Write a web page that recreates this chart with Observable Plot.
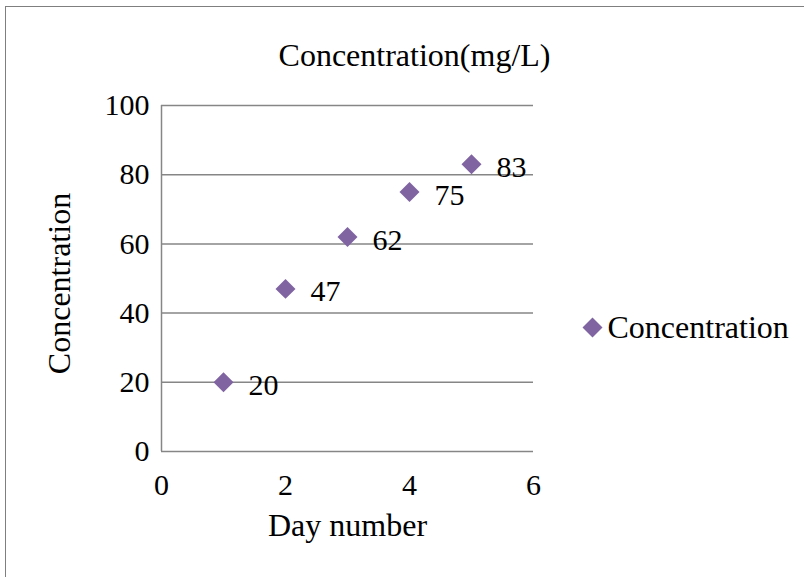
<!DOCTYPE html>
<html><head><meta charset="utf-8">
<script src="https://cdn.jsdelivr.net/npm/d3@7"></script>
<script src="https://cdn.jsdelivr.net/npm/@observablehq/plot@0.6"></script>
<style>
html,body{margin:0;padding:0;background:#fff;overflow:hidden}
#wrap{position:relative;width:804px;height:577px;overflow:hidden}
#border{position:absolute;left:5px;top:6px;width:830px;height:620px;border:1px solid #7f7f7f;box-sizing:border-box}
#chart{position:absolute;left:0;top:0}
</style>
</head><body>
<div id="wrap"><div id="border"></div><div id="chart"></div></div>
<script>
const titleText = "Concentration(mg/L)";
const xLabel = "Day number";
const yLabel = "Concentration";
const seriesName = "Concentration";
const days = [1, 2, 3, 4, 5];
const concentration = [20, 47, 62, 75, 83];
const xTicks = [0, 2, 4, 6];
const yTicks = [0, 20, 40, 60, 80, 100];

const data = days.map((d, i) => ({day: d, conc: concentration[i]}));
const purple = "#8064A2";
const grid = "#868686";
const font = "'Liberation Serif','Times New Roman',serif";

const chart = Plot.plot({
  width: 804, height: 577,
  marginLeft: 161, marginRight: 271, marginTop: 105, marginBottom: 126,
  style: {fontFamily: font, fontSize: "30px", color: "#000", background: "transparent", overflow: "visible"},
  x: {domain: [0, 6], ticks: xTicks, label: null, tickFormat: d3.format("d")},
  y: {domain: [0, 100], ticks: yTicks, label: null, tickFormat: d3.format("d")},
  marks: [
    Plot.ruleY(yTicks, {stroke: grid, strokeWidth: 1.5}),
    Plot.ruleX([0], {stroke: grid, strokeWidth: 1.5}),
    Plot.axisY({ticks: yTicks, tickSize: 0, tickPadding: 12, label: null, fontSize: 30, fill: "#000", tickFormat: d3.format("d")}),
    Plot.axisX({ticks: xTicks, tickSize: 0, tickPadding: 22, label: null, fontSize: 30, fill: "#000", tickFormat: d3.format("d")}),
    Plot.dot(data, {x: "day", y: "conc", symbol: "diamond2", r: 9, fill: purple, stroke: "none"}),
    Plot.text(data, {x: "day", y: "conc", text: d => String(d.conc), textAnchor: "start", dx: 25, dy: 3, fontSize: 30, fill: "#000"}),
    Plot.text([titleText], {frameAnchor: "top", dx: 67, dy: -62, fontSize: 32, fill: "#000"}),
    Plot.text([xLabel], {frameAnchor: "bottom", dy: 84, fontSize: 32, fill: "#000"}),
    Plot.text([yLabel], {frameAnchor: "left", textAnchor: "middle", rotate: -90, dx: -102, dy: 5, fontSize: 32, fill: "#000"}),
    Plot.dot([seriesName], {frameAnchor: "right", dx: 59, dy: 49, symbol: "diamond2", r: 9, fill: purple, stroke: "none"}),
    Plot.text([seriesName], {frameAnchor: "right", dx: 74, dy: 49, textAnchor: "start", fontSize: 32, fill: "#000"})
  ]
});
document.getElementById("chart").appendChild(chart);
</script>
</body></html>
